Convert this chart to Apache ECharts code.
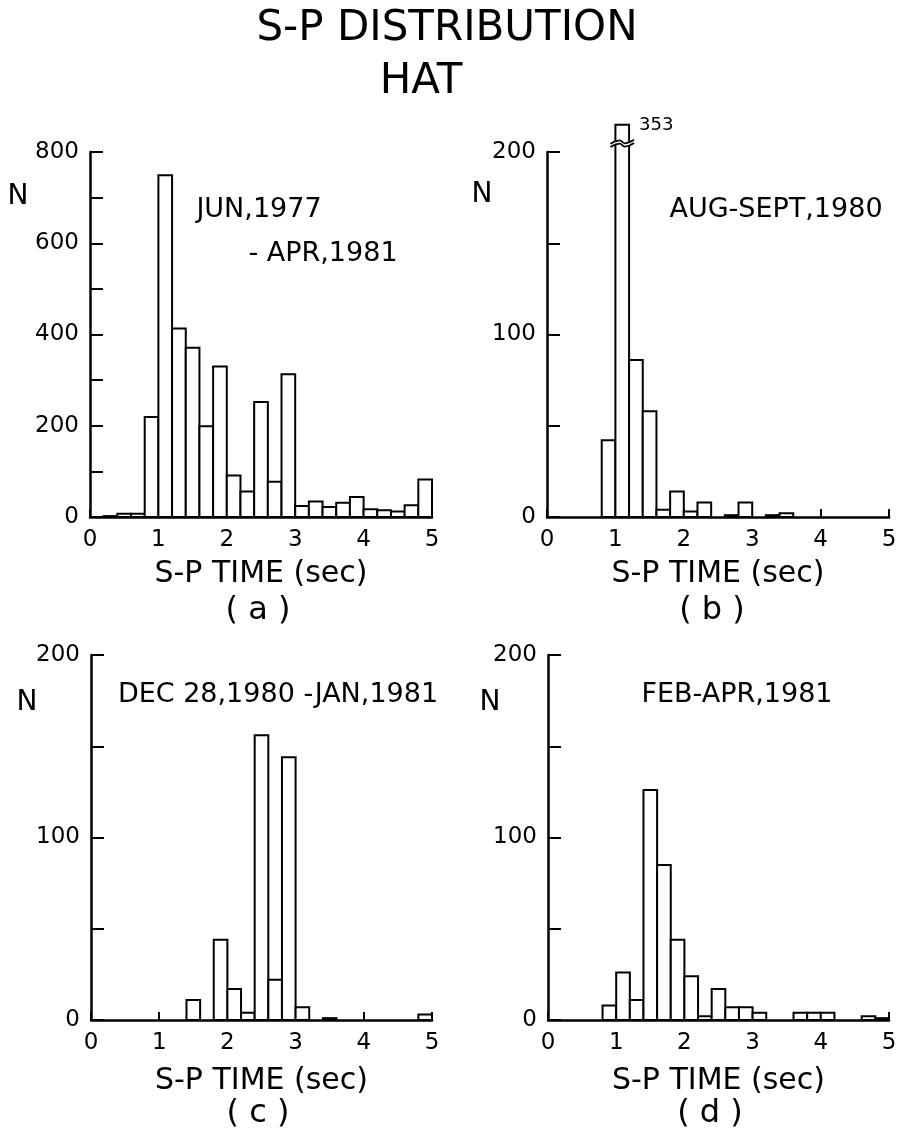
<!DOCTYPE html>
<html>
<head>
<meta charset="utf-8">
<script src="https://cdn.jsdelivr.net/npm/echarts@6/dist/echarts.min.js"></script>
<style>
html,body{margin:0;padding:0;background:#fff;}
#chart{width:901px;height:1135px;}
</style>
</head>
<body>
<div id="chart"></div>
<script>
// ---- data ----
const binEdges = [0, 0.2, 0.4, 0.6, 0.8, 1.0, 1.2, 1.4, 1.6, 1.8, 2.0, 2.2, 2.4, 2.6, 2.8, 3.0, 3.2, 3.4, 3.6, 3.8, 4.0, 4.2, 4.4, 4.6, 4.8, 5.0];
const countsA = [0, 2, 7, 7, 219, 749, 413, 371, 199, 330, 91, 56, 252, 77, 313, 24, 34, 22, 31, 44, 17, 15, 12, 26, 82];
const countsB = [0, 0, 0, 0, 42, 353, 86, 58, 4, 14, 3, 8, 0, 1, 8, 0, 1, 2, 0, 0, 0, 0, 0, 0, 0];
const countsC = [0, 0, 0, 0, 0, 0, 0, 11, 0, 44, 17, 4, 156, 22, 144, 7, 0, 1, 0, 0, 0, 0, 0, 0, 3];
const countsD = [0, 0, 0, 0, 8, 26, 11, 126, 85, 44, 24, 2, 17, 7, 7, 4, 0, 0, 4, 4, 4, 0, 0, 2, 1];
const periodA1 = 'JUN,1977';
const periodA2 = '- APR,1981';
const periodB = 'AUG-SEPT,1980';
const periodC = 'DEC 28,1980 -JAN,1981';
const periodD = 'FEB-APR,1981';
const panelTags = ['( a )', '( b )', '( c )', '( d )'];
const yMaxes = [800, 200, 200, 200];
const yTickSteps = [100, 50, 50, 50];
const yLabelSteps = [200, 100, 100, 100];
const xMin = 0, xMax = 5, xStep = 1;
const titleMain = 'S-P DISTRIBUTION';
const titleSub = 'HAT';
const xName = 'S-P TIME (sec)';
const yName = 'N';

// ---- layout / style ----
const FONT = "'DejaVu Sans', sans-serif";
const grids = [
  {left: 90, top: 152, width: 342, height: 365},
  {left: 547, top: 152, width: 342, height: 365},
  {left: 91, top: 655, width: 341, height: 365},
  {left: 548, top: 655, width: 341, height: 365}
];
const xNameGaps = [57, 57, 61, 61];
const brokenCap = 215; // visual height of a bar broken above the axis top

const allCounts = [countsA, countsB, countsC, countsD];

function makeRender(yMax) {
  return function (params, api) {
    const x0 = api.value(0), x1 = api.value(1), v = api.value(2);
    if (!v) return null;
    const shown = v > yMax ? brokenCap : v;
    const pBase = api.coord([x0, 0]);
    const pTop = api.coord([x1, shown]);
    const rect = {
      type: 'rect',
      shape: {x: pBase[0], y: pTop[1], width: pTop[0] - pBase[0], height: pBase[1] - pTop[1]},
      style: {fill: '#fff', stroke: '#000', lineWidth: 2}
    };
    if (v <= yMax) return rect;
    const l = pBase[0], r = pTop[0], w = r - l;
    const yA = api.coord([x0, yMax + 5.6])[1];
    const yB = api.coord([x0, yMax + 3.8])[1];
    const wave = (y) => ({
      type: 'polyline',
      shape: {points: [[l - 5, y + 2], [l + w * 0.3, y - 1.5], [l + w * 0.7, y + 1.5], [r + 5, y - 2]], smooth: 0.5},
      style: {fill: null, stroke: '#000', lineWidth: 1.8}
    });
    return {
      type: 'group',
      children: [
        rect,
        {type: 'rect', shape: {x: l - 2, y: yA, width: w + 4, height: yB - yA}, style: {fill: '#fff'}},
        wave(yA),
        wave(yB),
        {type: 'text', x: r + 10, y: pTop[1] + 1,
         style: {text: String(v), fill: '#000', font: '18px ' + FONT, textAlign: 'left', textVerticalAlign: 'middle'}}
      ]
    };
  };
}

const xAxes = [], yAxes = [], series = [];
grids.forEach((g, i) => {
  xAxes.push({
    gridIndex: i, type: 'value', min: xMin, max: xMax, interval: xStep,
    name: xName, nameLocation: 'middle', nameGap: xNameGaps[i],
    nameTextStyle: {fontFamily: FONT, fontSize: 30, color: '#000', verticalAlign: 'middle'},
    axisLine: {show: true, onZero: false, lineStyle: {color: '#000', width: 2.5}},
    axisTick: {show: true, inside: true, length: 8, lineStyle: {color: '#000', width: 2}},
    axisLabel: {fontFamily: FONT, fontSize: 23, color: '#000', margin: 12},
    splitLine: {show: false}
  });
  const step = yLabelSteps[i];
  yAxes.push({
    gridIndex: i, type: 'value', min: 0, max: yMaxes[i], interval: yTickSteps[i],
    axisLine: {show: true, lineStyle: {color: '#000', width: 2.5}},
    axisTick: {show: true, inside: true, length: 13, lineStyle: {color: '#000', width: 2}},
    axisLabel: {fontFamily: FONT, fontSize: 23, color: '#000', margin: 11,
      formatter: (v) => (v % step === 0 ? String(v) : '')},
    splitLine: {show: false}
  });
  const counts = allCounts[i];
  series.push({
    type: 'custom', xAxisIndex: i, yAxisIndex: i, clip: false,
    renderItem: makeRender(yMaxes[i]),
    encode: {x: [0, 1], y: 2},
    data: counts.map((c, k) => [binEdges[k], binEdges[k + 1], c]),
    z: 1
  });
});

function txt(str, x, y, size, align) {
  return {type: 'text', x: x, y: y,
    style: {text: str, fill: '#000', font: size + 'px ' + FONT, textAlign: align || 'center', textVerticalAlign: 'middle'}};
}

const graphics = [
  txt(titleMain, 447, 29, 42),
  txt(titleSub, 421, 82, 42),
  txt(periodA1, 259, 210, 27),
  txt(periodA2, 323, 254, 27),
  txt(periodB, 776, 210, 27),
  txt(periodC, 278, 695, 27),
  txt(periodD, 737, 695, 27),
  txt(yName, 18, 197, 28),
  txt(yName, 482, 195, 28),
  txt(yName, 27, 703, 28),
  txt(yName, 490, 703, 28),
  txt(panelTags[0], 258, 611, 32),
  txt(panelTags[1], 712, 611, 32),
  txt(panelTags[2], 258, 1114, 32),
  txt(panelTags[3], 710, 1114, 32)
];

const chart = echarts.init(document.getElementById('chart'), null, {renderer: 'canvas'});
chart.setOption({
  backgroundColor: '#fff',
  animation: false,
  grid: grids,
  xAxis: xAxes,
  yAxis: yAxes,
  series: series,
  graphic: graphics
});
</script>
</body>
</html>
